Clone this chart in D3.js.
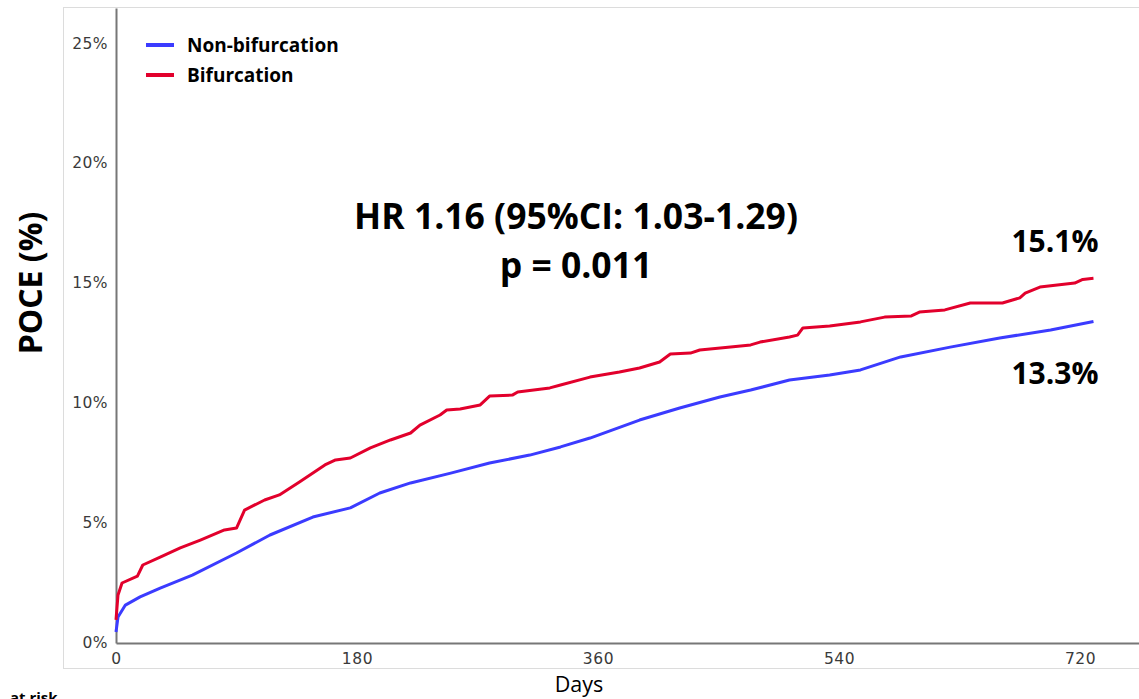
<!DOCTYPE html>
<html>
<head>
<meta charset="utf-8">
<script src="https://d3js.org/d3.v7.min.js"></script>
<style>
  html, body { margin: 0; padding: 0; background: #fff; }
  svg { display: block; }
</style>
</head>
<body>
<div id="chart"></div>
<script>
// Kaplan-Meier style cumulative incidence
const redDays = [0, 1.5, 4.5, 16, 20, 33, 48, 63, 81, 90, 96, 111, 122, 137, 156, 164, 175, 190, 205, 220, 227, 242, 247, 257, 272, 279, 296, 300, 324, 332, 354, 376, 391, 406, 414, 429, 436, 459, 474, 481, 503, 509, 513, 533, 556, 574, 594, 600, 619, 638, 662, 675, 679, 690, 716, 722, 730];
const redPct  = [0.96, 2.0, 2.5, 2.79, 3.25, 3.58, 3.96, 4.29, 4.71, 4.79, 5.54, 5.96, 6.17, 6.71, 7.42, 7.63, 7.71, 8.13, 8.46, 8.75, 9.08, 9.5, 9.71, 9.75, 9.92, 10.29, 10.33, 10.46, 10.63, 10.75, 11.08, 11.29, 11.46, 11.71, 12.04, 12.08, 12.21, 12.33, 12.42, 12.54, 12.75, 12.83, 13.13, 13.21, 13.38, 13.58, 13.63, 13.79, 13.88, 14.17, 14.17, 14.38, 14.58, 14.83, 15.0, 15.15, 15.2];

const blueDays = [0, 1.5, 7, 18, 33, 57, 90, 115, 147, 175, 197, 220, 250, 279, 309, 332, 354, 391, 421, 451, 474, 503, 533, 556, 586, 623, 660, 698, 730];
const bluePct  = [0.46, 1.08, 1.58, 1.92, 2.29, 2.83, 3.75, 4.5, 5.25, 5.63, 6.25, 6.67, 7.08, 7.5, 7.83, 8.17, 8.54, 9.29, 9.79, 10.25, 10.54, 10.96, 11.17, 11.38, 11.92, 12.33, 12.71, 13.04, 13.4];

const xTicks = [0, 180, 360, 540, 720];
const yTicks = [0, 5, 10, 15, 20, 25];
const seriesNames = ["Non-bifurcation", "Bifurcation"];
const seriesColors = ["#3b3bff", "#e2002c"];

const width = 1139, height = 699;
const svg = d3.select("#chart").append("svg")
    .attr("width", width)
    .attr("height", height);

const font = "'Open Sans', Lato, sans-serif";
const tickFont = "'DejaVu Sans', Verdana, sans-serif";

// light frame around the plot
svg.append("rect")
    .attr("x", 63.5).attr("y", 7.5)
    .attr("width", 1100).attr("height", 661)
    .attr("fill", "none")
    .attr("stroke", "#dcdcdc")
    .attr("stroke-width", 1);

// scales
const x = d3.scaleLinear().domain([0, 764]).range([116, 1139]);
const y = d3.scaleLinear().domain([0, 26.46]).range([643, 8]);

// axes
const xAxis = svg.append("g")
    .attr("transform", `translate(0,${y(0)})`)
    .call(d3.axisBottom(x).tickValues(xTicks).tickSize(0).tickPadding(10).tickFormat(d3.format("d")));
xAxis.select(".domain").attr("stroke", "#777").attr("stroke-width", 2);
xAxis.selectAll("text")
    .attr("font-family", tickFont)
    .attr("font-size", 15.5)
    .attr("letter-spacing", 0.6)
    .attr("fill", "#3a3a3a");

const yAxis = svg.append("g")
    .attr("transform", `translate(${x(0)},0)`)
    .call(d3.axisLeft(y).tickValues(yTicks).tickSize(0).tickPadding(8).tickFormat(d => d + "%"));
yAxis.select(".domain").attr("stroke", "#777").attr("stroke-width", 2);
yAxis.selectAll("text")
    .attr("font-family", tickFont)
    .attr("font-size", 15.5)
    .attr("letter-spacing", 0.4)
    .attr("fill", "#3a3a3a");

// curves
const line = d3.line()
    .x(d => x(d[0]))
    .y(d => y(d[1]));

const blueData = blueDays.map((d, i) => [d, bluePct[i]]);
const redData = redDays.map((d, i) => [d, redPct[i]]);

svg.append("path")
    .datum(blueData)
    .attr("d", line)
    .attr("fill", "none")
    .attr("stroke", seriesColors[0])
    .attr("stroke-width", 3)
    .attr("stroke-linejoin", "round");

svg.append("path")
    .datum(redData)
    .attr("d", line)
    .attr("fill", "none")
    .attr("stroke", seriesColors[1])
    .attr("stroke-width", 3)
    .attr("stroke-linejoin", "round");

// legend
const legend = svg.append("g");
seriesNames.forEach((name, i) => {
    const ly = 45 + i * 30;
    legend.append("line")
        .attr("x1", 146).attr("x2", 174)
        .attr("y1", ly).attr("y2", ly)
        .attr("stroke", seriesColors[i])
        .attr("stroke-width", 4);
    legend.append("text")
        .attr("x", 187).attr("y", ly + 6.5)
        .attr("font-family", font)
        .attr("font-weight", "bold")
        .attr("font-size", 19)
        .attr("fill", "#000")
        .text(name);
});

// annotations
svg.append("text")
    .attr("x", 576).attr("y", 229)
    .attr("text-anchor", "middle")
    .attr("font-family", font)
    .attr("font-weight", "bold")
    .attr("font-size", 35.5)
    .text("HR 1.16 (95%CI: 1.03-1.29)");

svg.append("text")
    .attr("x", 576).attr("y", 278)
    .attr("text-anchor", "middle")
    .attr("font-family", font)
    .attr("font-weight", "bold")
    .attr("font-size", 35.5)
    .text("p = 0.011");

svg.append("text")
    .attr("x", 1055).attr("y", 252)
    .attr("text-anchor", "middle")
    .attr("font-family", font)
    .attr("font-weight", "bold")
    .attr("font-size", 30)
    .text("15.1%");

svg.append("text")
    .attr("x", 1055).attr("y", 384)
    .attr("text-anchor", "middle")
    .attr("font-family", font)
    .attr("font-weight", "bold")
    .attr("font-size", 30)
    .text("13.3%");

// axis titles
svg.append("text")
    .attr("transform", "translate(42,283) rotate(-90)")
    .attr("text-anchor", "middle")
    .attr("font-family", font)
    .attr("font-weight", "bold")
    .attr("font-size", 32)
    .text("POCE (%)");

svg.append("text")
    .attr("x", 579).attr("y", 692)
    .attr("text-anchor", "middle")
    .attr("font-family", font)
    .attr("font-size", 21.5)
    .text("Days");

svg.append("text")
    .attr("x", 10).attr("y", 703)
    .attr("font-family", font)
    .attr("font-weight", "bold")
    .attr("font-size", 15)
    .text("at risk");
</script>
</body>
</html>
